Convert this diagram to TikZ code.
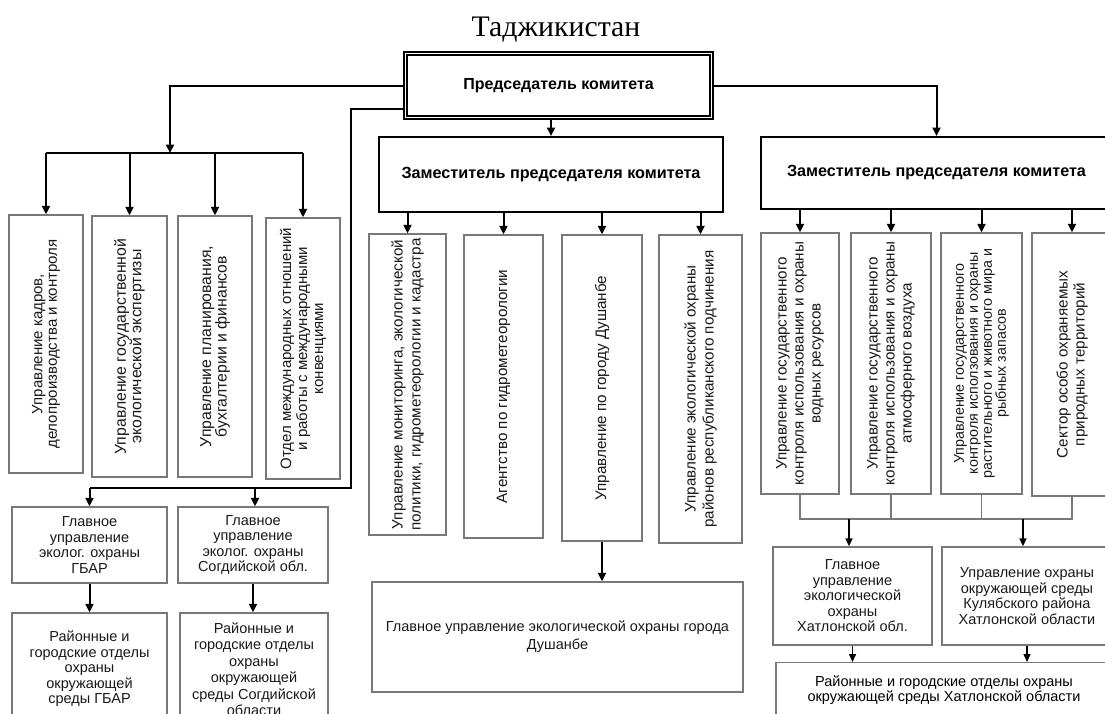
\documentclass[tikz,border=0pt]{standalone}
\usepackage{fontspec}
\setmainfont{Liberation Sans}
\newfontfamily\titlefont{Liberation Serif}
\usetikzlibrary{arrows.meta}
\definecolor{bordergray}{RGB}{120,120,120}
\definecolor{txt}{RGB}{25,25,25}
\begin{document}
\begin{tikzpicture}[x=1pt,y=-1pt,
 arr/.style={-{Triangle[length=8.5pt,width=8pt]}, line width=2pt},
 arrs/.style={-{Triangle[length=8pt,width=7pt]}, line width=1.5pt},
 busline/.style={line width=2pt},
 thinline/.style={line width=1.5pt},
 bracketline/.style={draw=bordergray, line width=1.2pt},
 gbox/.style={draw=bordergray, line width=1.3pt, inner sep=0pt, text=txt},
 dbox/.style={draw=black, line width=2pt, inner sep=0pt, font=\bfseries\fontsize{16.2}{18}\selectfont},
 vt/.style={rotate=90, align=center, inner sep=0pt, text=txt, font=\fontsize{15.2}{17}\selectfont},
 vtm/.style={rotate=90, align=center, inner sep=0pt, text=txt, font=\fontsize{15.2}{18}\selectfont},
 vtl/.style={rotate=90, align=center, inner sep=0pt, text=txt, font=\fontsize{15.8}{15.5}\selectfont},
 ht/.style={align=center, font=\fontsize{14.5}{15.5}\selectfont},
]
\useasboundingbox (0,0) rectangle (1105,713);
\fill[white] (0,0) rectangle (1105,713);

% title
\node[font=\titlefont\fontsize{29.8}{31}\selectfont, inner sep=0pt, anchor=base] (title) at (556,36) {Таджикистан};

% chairman
\node[draw, double, double distance=1.8pt, line width=1.3pt, minimum width=306pt, minimum height=64pt, inner sep=0pt, font=\bfseries\fontsize{16}{18}\selectfont] (ch) at (558.5,85.5) {Председатель комитета};

% deputies
\node[dbox, minimum width=344pt, minimum height=75pt] (D1) at (551,174.5) {Заместитель председателя комитета};
\node[dbox, minimum width=351pt, minimum height=72pt] (D2) at (936.5,173) {Заместитель председателя комитета};

% left group boxes
\node[gbox, minimum width=74pt, minimum height=258pt] (A) at (46,344) {};
\node[gbox, minimum width=75pt, minimum height=261pt] (B) at (129.5,346.5) {};
\node[gbox, minimum width=74pt, minimum height=261pt] (C) at (215,346.5) {};
\node[gbox, minimum width=74pt, minimum height=261pt] (D) at (303,348.5) {};
\node[vtl, font=\fontsize{15}{14.5}\selectfont] (At) at (A) {Управление кадров,\\делопроизводства и контроля};
\node[vtl] (Bt) at (B) {Управление государственной\\экологической экспертизы};
\node[vtl] (Ct) at (C) {Управление планирования,\\бухгалтерии и финансов};
\node[vtl, font=\fontsize{15}{16}\selectfont] (Dt) at (D) {Отдел международных отношений\\и работы с международными\\конвенциями};

% middle group boxes
\node[gbox, minimum width=77pt, minimum height=301pt] (E) at (407.5,384.5) {};
\node[gbox, minimum width=79pt, minimum height=303pt] (F) at (503.5,386.5) {};
\node[gbox, minimum width=80pt, minimum height=306pt] (G) at (602,388) {};
\node[gbox, minimum width=83pt, minimum height=308pt] (H) at (700.5,389) {};
\node[vtm] (Et) at (E) {Управление мониторинга, экологической\\политики, гидрометеорологии и кадастра};
\node[vtm] (Ft) at (F) {Агентство по гидрометеорологии};
\node[vtm] (Gt) at (G) {Управление по городу Душанбе};
\node[vtm] (Ht) at (H) {Управление экологической охраны\\районов республиканского подчинения};

% right group boxes
\node[gbox, minimum width=78pt, minimum height=261pt] (J) at (800,363.5) {};
\node[gbox, minimum width=80pt, minimum height=261pt] (K) at (891,363.5) {};
\node[gbox, minimum width=81pt, minimum height=261pt] (L) at (981.5,363.5) {};
\node[gbox, minimum width=80pt, minimum height=263pt] (M) at (1072,364.5) {};
\node[vt] (Jt) at (J) {Управление государственного\\контроля использования и охраны\\водных ресурсов};
\node[vt] (Kt) at (K) {Управление государственного\\контроля использования и охраны\\атмосферного воздуха};
\node[vt, font=\fontsize{14.3}{14}\selectfont] (Lt) at (L) {Управление государственного\\контроля исползования и охраны\\растительного и животного мира и\\рыбных запасов};
\node[vt] (Mt) at (M) {Сектор особо охраняемых\\природных территорий};

% lower boxes
\node[gbox, ht, minimum width=155pt, minimum height=76pt] (Q) at (89.5,545) {Главное\\управление\\эколог. охраны\\ГБАР};
\node[gbox, ht, minimum width=150pt, minimum height=76pt] (R) at (253,545) {Главное\\управление\\эколог. охраны\\Согдийской обл.};
\node[gbox, ht, minimum width=155pt, minimum height=112pt] (S) at (89.5,669) {Районные и\\городские отделы\\охраны\\окружающей\\среды ГБАР};
\node[gbox, ht, minimum width=148pt, minimum height=112pt, font=\fontsize{14.5}{16.5}\selectfont] (T) at (254,669) {Районные и\\городские отделы\\охраны\\окружающей\\среды Согдийской\\области};
\node[gbox, ht, minimum width=371pt, minimum height=110pt, font=\fontsize{14.5}{18}\selectfont] (I) at (557.5,637) {Главное управление экологической охраны города\\Душанбе};
\node[gbox, ht, minimum width=159pt, minimum height=98pt] (N) at (852.5,596) {Главное\\управление\\экологической\\охраны\\Хатлонской обл.};
\node[gbox, ht, minimum width=170pt, minimum height=98pt] (O) at (1027,596) {Управление охраны\\окружающей среды\\Кулябского района\\Хатлонской области};
\node[gbox, ht, minimum width=336pt, minimum height=58pt, anchor=north] (P) at (944,662) {};
\node[ht, inner sep=0pt] (Pt) at (944,690) {Районные и городские отделы охраны\\окружающей среды Хатлонской области};

% coordinates
\coordinate (busL) at (170,153);
\coordinate (c2) at (351,109);
\coordinate (c3) at (351,488);
\coordinate (rarrow) at (255,488);
\coordinate (br) at (0,519);
\coordinate (bn) at (849,519);
\coordinate (bo) at (1023,519);

% chairman -> left staff
\draw[arr] (ch.west) -| (busL);
\draw[busline] (A.north |- busL) -- (D.north |- busL);
\foreach \n in {A,B,C,D} \draw[arr] (\n.north |- busL) -- (\n.north);

% chairman -> regional
\draw[thinline] (ch.west |- c2) -- (c2) -- (c3) -- (Q.north |- c3);
\draw[arr] (Q.north |- c3) -- (Q.north);
\draw[arr] (rarrow) -- (rarrow |- R.north);

% chairman -> deputies
\draw[arr] (D1.north |- ch.south) -- (D1.north);
\draw[arr] (ch.east) -| (D2.north);

% deputies -> departments
\foreach \n in {E,F,G,H} \draw[arr] (\n.north |- D1.south) -- (\n.north);
\foreach \n in {J,K,L,M} \draw[arr] (\n.north |- D2.south) -- (\n.north);

% bracket
\draw[bracketline] (J.south) -- (J.south |- br) -- (M.south |- br) -- (M.south);
\draw[bracketline] (K.south) -- (K.south |- br);
\draw[bracketline] (L.south) -- (L.south |- br);
\draw[arrs] (bn) -- (bn |- N.north);
\draw[arrs] (bo) -- (bo |- O.north);
\draw[arrs] (N.south) -- (N.south |- P.north);
\draw[arrs] (O.south) -- (O.south |- P.north);

% lower arrows
\draw[arr] (G.south) -- (G.south |- I.north);
\draw[arr] (Q.south) -- (Q.south |- S.north);
\draw[arr] (R.south) -- (R.south |- T.north);
\end{tikzpicture}
\end{document}
